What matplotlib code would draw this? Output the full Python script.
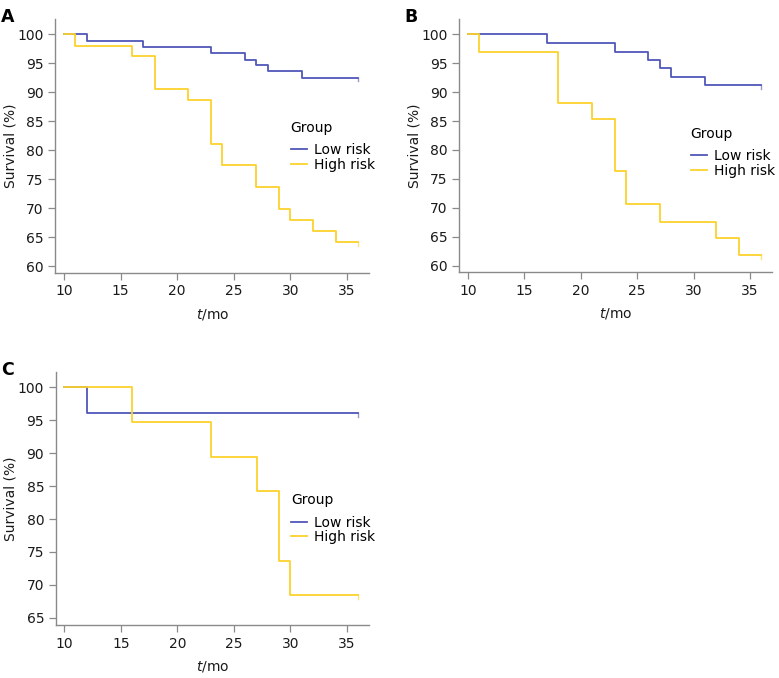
import numpy as np
import matplotlib.pyplot as plt

# panel A
a_low_t = [10, 12, 17, 23, 26, 27, 28, 31, 36]
a_low_s = [100, 98.9, 97.8, 96.7, 95.6, 94.6, 93.6, 92.5, 92.5]
a_high_t = [10, 11, 16, 18, 21, 23, 24, 27, 29, 30, 32, 34, 36]
a_high_s = [100, 98.0, 96.2, 90.5, 88.6, 81.1, 77.4, 73.6, 69.8, 67.9, 66.0, 64.1, 64.1]

# panel B
b_low_t = [10, 17, 23, 26, 27, 28, 31, 36]
b_low_s = [100, 98.5, 97.0, 95.6, 94.1, 92.7, 91.2, 91.2]
b_high_t = [10, 11, 18, 21, 23, 24, 27, 32, 34, 36]
b_high_s = [100, 97.0, 88.1, 85.3, 76.4, 70.6, 67.6, 64.7, 61.8, 61.8]

# panel C
c_low_t = [10, 12, 36]
c_low_s = [100, 96.1, 96.1]
c_high_t = [10, 16, 23, 27, 29, 30, 36]
c_high_s = [100, 94.7, 89.5, 84.2, 73.7, 68.4, 68.4]

blue = '#5157b8'
yellow = '#fcd22c'
grey = '#8a8a8a'

plt.rcParams['font.family'] = 'DejaVu Sans'
fig = plt.figure(figsize=(7.79, 6.78), dpi=100)


def panel(rect, low, high, ylim, yticks, leg_xy, letter):
    ax = fig.add_axes(rect)
    for (t, s), c, lab in [(low, blue, 'Low risk'), (high, yellow, 'High risk')]:
        ax.step(t, s, where='post', color=c, lw=1.3, label=lab)
        # censor mark at the end
        ax.plot([t[-1], t[-1]], [s[-1], s[-1] - 0.6], color=c, lw=1.0, alpha=0.6)
    ax.set_xlim(9.25, 36.95)
    ax.set_ylim(*ylim)
    ax.set_xticks([10, 15, 20, 25, 30, 35])
    ax.set_yticks(yticks)
    for side in ['top', 'right']:
        ax.spines[side].set_visible(False)
    for side in ['left', 'bottom']:
        ax.spines[side].set_color(grey)
        ax.spines[side].set_linewidth(1.0)
    ax.tick_params(colors=grey, labelcolor='#1a1a1a', labelsize=10, length=5, width=0.9)
    ax.set_xlabel('$\\it{t}$/mo', fontsize=10, color='#1a1a1a', labelpad=6)
    ax.set_ylabel('Survival (%)', fontsize=10, color='#1a1a1a', labelpad=0)
    leg = ax.legend(title='Group', loc='upper left', bbox_to_anchor=leg_xy, frameon=False,
                    fontsize=10, title_fontsize=10, handlelength=1.2, handletextpad=0.5,
                    labelspacing=0.05, borderpad=0, borderaxespad=0, alignment='left')
    leg._legend_box.sep = 6  # extra room under the title
    pos = ax.get_position()
    fig.text(pos.x0 - 0.07, pos.y1 + 0.016, letter, fontsize=12.5, fontweight='bold', va='top')
    return ax


panel([0.0712, 0.5978, 0.4025, 0.374], (a_low_t, a_low_s), (a_high_t, a_high_s),
      (58.85, 102.6), [60, 65, 70, 75, 80, 85, 90, 95, 100], (0.75, 0.6), 'A')
panel([0.5896, 0.5985, 0.4014, 0.373], (b_low_t, b_low_s), (b_high_t, b_high_s),
      (58.85, 102.6), [60, 65, 70, 75, 80, 85, 90, 95, 100], (0.74, 0.575), 'B')
panel([0.0719, 0.0782, 0.4018, 0.3736], (c_low_t, c_low_s), (c_high_t, c_high_s),
      (63.9, 102.4), [65, 70, 75, 80, 85, 90, 95, 100], (0.75, 0.52), 'C')

fig.savefig('out.png', dpi=100)
